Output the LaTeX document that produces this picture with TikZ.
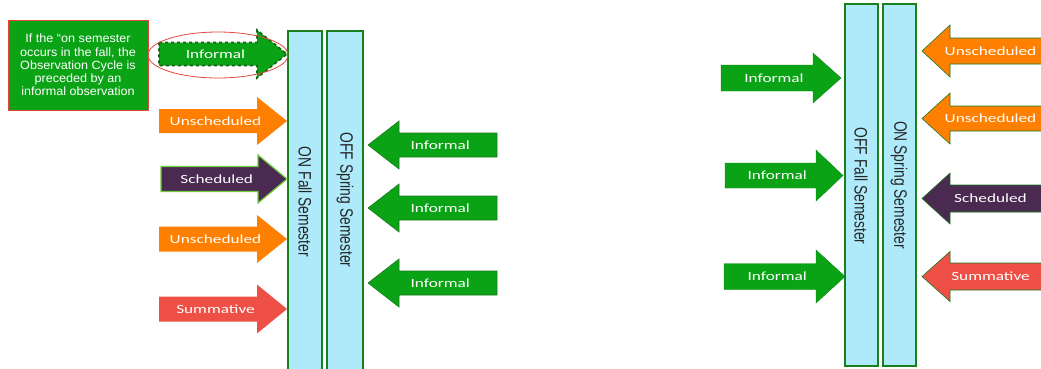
\documentclass[tikz,border=0pt]{standalone}
\usepackage{fontspec}
\setmainfont{Liberation Sans}
\newfontfamily\labfont[FakeStretch=1.38]{Carlito}
\newfontfamily\semfont[FakeStretch=0.77]{Liberation Sans}
\newfontfamily\notefont[FakeStretch=1.05]{Liberation Sans}
\definecolor{infgreen}{RGB}{11,163,22}
\definecolor{darkgreen}{RGB}{26,122,30}
\definecolor{orng}{RGB}{255,128,0}
\definecolor{purp}{RGB}{75,42,82}
\definecolor{summ}{RGB}{238,80,70}
\definecolor{semfill}{RGB}{174,234,250}
\definecolor{semline}{RGB}{26,128,30}
\definecolor{notered}{RGB}{228,70,60}
\definecolor{litegreen}{RGB}{110,205,60}
% #1 name, #2 style, #3 xl, #4 head base x, #5 tip x, #6 yc, #7 body half h, #8 head half h, #9 text
\newcommand\blockarrow[9]{%
  \path[#2] (#3,{#6-#7}) -- (#4,{#6-#7}) -- (#4,{#6-#8}) -- (#5,#6) -- (#4,{#6+#8}) -- (#4,{#6+#7}) -- (#3,{#6+#7}) -- cycle;
  \node[lab] (#1) at ({(#3+#4)/2+(#5-#4)/4},#6) {#9};}
\begin{document}
\begin{tikzpicture}[x=1pt,y=-1pt,
  lab/.style={text=white,font=\labfont\fontsize{12.5}{14}\selectfont,inner sep=0pt},
  informalarr/.style={fill=infgreen,draw=darkgreen,line width=0.6pt,line join=miter},
  informalplain/.style={fill=infgreen,draw=infgreen!85!black,line width=0.4pt},
  dashedarr/.style={fill=infgreen,draw=darkgreen!80!black,line width=1.6pt,dashed},
  unschL/.style={fill=orng},
  schedL/.style={fill=purp,draw=litegreen,line width=1.2pt,line join=miter},
  summL/.style={fill=summ},
  unschR/.style={fill=orng,draw=darkgreen,line width=0.6pt},
  schedR/.style={fill=purp,draw=darkgreen,line width=0.6pt},
  summR/.style={fill=summ,draw=darkgreen,line width=0.6pt},
  sembox/.style={fill=semfill,draw=semline,line width=1.3pt},
  semtext/.style={font=\semfont\fontsize{18}{20}\selectfont,text=black!85,rotate=-90,inner sep=0pt},
  notebox/.style={fill=infgreen,draw=notered,line width=0.8pt},
  notetext/.style={text=white,font=\notefont\fontsize{12}{13.2}\selectfont,align=center,inner sep=0pt}
]
\useasboundingbox (0,0) rectangle (1041,368);
\clip (0,0) rectangle (1041,368);

% note box
\path[notebox] (8,20) rectangle (148,110);
\node[notetext] (note) at (78,65) {If the “on semester\\occurs in the fall, the\\Observation Cycle is\\preceded by an\\informal observation};

% left group semester boxes
\path[sembox] (288,31) rectangle (322,372);
\path[sembox] (327,31) rectangle (363,372);
\node[semtext] (onfall) at (305,202) {ON Fall Semester};
\node[semtext] (offspring) at (345,200) {OFF Spring Semester};

% left group arrows
\blockarrow{dinf}{dashedarr}{159}{257}{287}{54}{11.5}{24}{Informal}
\blockarrow{lu1}{unschL}{159}{257}{287}{121}{12}{24}{Unscheduled}
\blockarrow{ls}{schedL}{161}{258}{287}{179}{12.5}{24}{Scheduled}
\blockarrow{lu2}{unschL}{159}{257}{287}{239}{12.5}{24}{Unscheduled}
\blockarrow{lsum}{summL}{159}{257}{287}{309}{12.5}{24.5}{Summative}
\blockarrow{li1}{informalarr}{497}{399}{368}{145}{12}{24}{Informal}
\blockarrow{li2}{informalarr}{497}{399}{368}{208}{12}{24}{Informal}
\blockarrow{li3}{informalarr}{497}{399}{368}{283}{12}{24}{Informal}

% highlight ellipse
\draw[notered,line width=0.8pt] (218,55) ellipse [x radius=70,y radius=23];

% right group semester boxes
\path[sembox] (845,4) rectangle (878,366);
\path[sembox] (883,4) rectangle (916,366);
\node[semtext] (offfall) at (861,186) {OFF Fall Semester};
\node[semtext] (onspring) at (899,185) {ON Spring Semester};

% right group arrows
\blockarrow{ri1}{informalplain}{721}{813}{841}{78}{13}{25}{Informal}
\blockarrow{ri2}{informalplain}{725}{816}{843}{175.5}{12.5}{25.5}{Informal}
\blockarrow{ri3}{informalplain}{724}{816}{845}{276.5}{13}{26.5}{Informal}
\blockarrow{ru1}{unschR}{1045}{950}{922}{51}{13}{26}{Unscheduled}
\blockarrow{ru2}{unschR}{1045}{950}{922}{118.5}{12.5}{25.5}{Unscheduled}
\blockarrow{rs}{schedR}{1045}{950}{922}{198.5}{13.5}{25.5}{Scheduled}
\blockarrow{rsum}{summR}{1045}{950}{922}{276.5}{13.5}{25}{Summative}
\end{tikzpicture}
\end{document}
